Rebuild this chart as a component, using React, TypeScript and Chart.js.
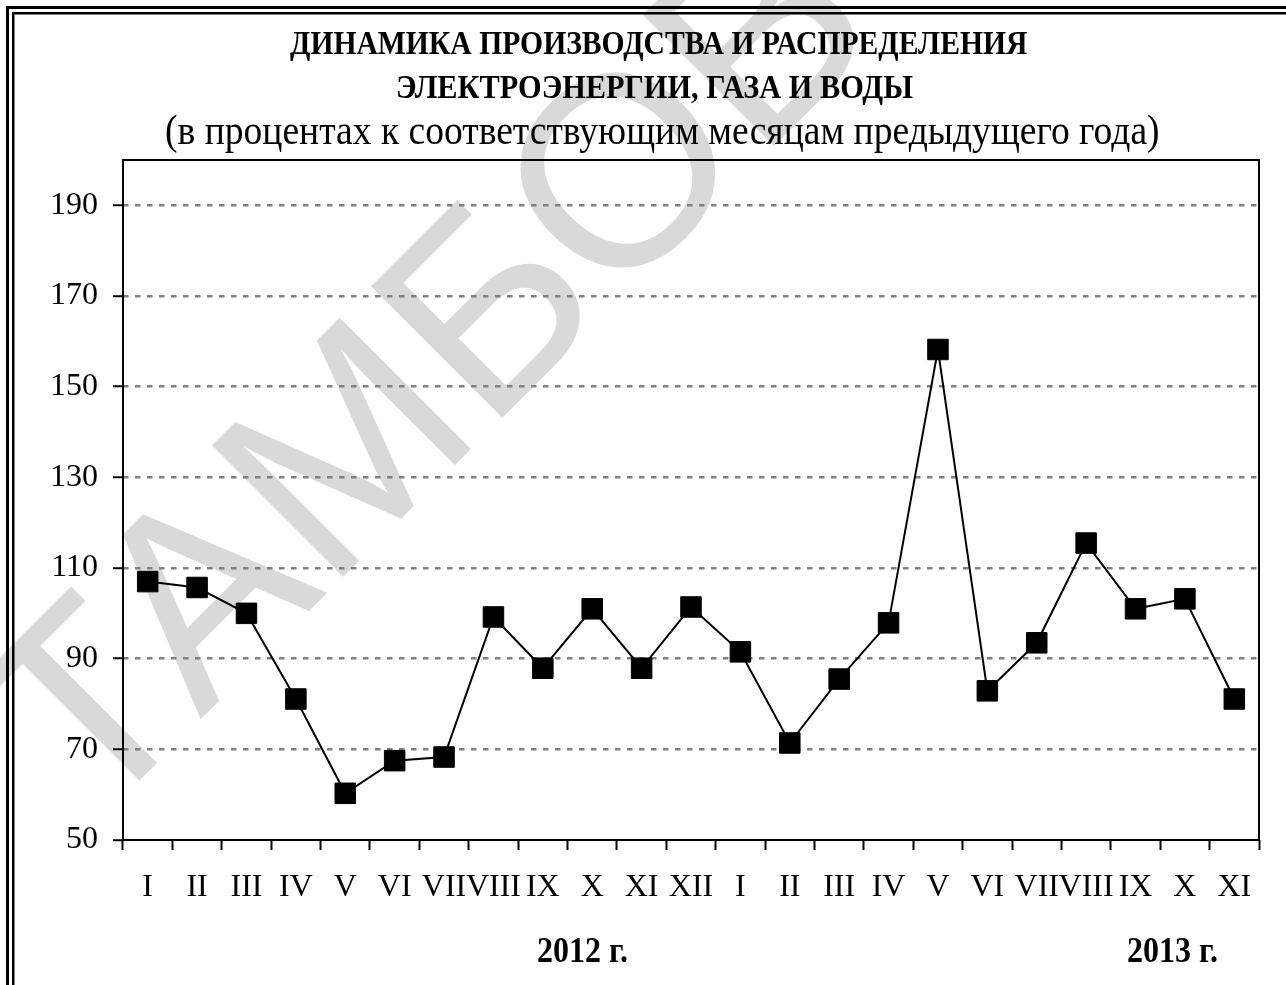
import React, { useEffect, useRef } from 'react';
import { Chart, registerables } from 'chart.js';

Chart.register(...registerables);

const MONTHS = ['I', 'II', 'III', 'IV', 'V', 'VI', 'VII', 'VIII', 'IX', 'X', 'XI', 'XII',
  'I', 'II', 'III', 'IV', 'V', 'VI', 'VII', 'VIII', 'IX', 'X', 'XI'];
const VALUES = [107.0, 105.7, 100.0, 81.1, 60.3, 67.5, 68.3, 99.2, 87.9, 101.0, 87.9, 101.4,
  91.5, 71.4, 85.5, 97.9, 158.2, 82.9, 93.5, 115.5, 101.0, 103.2, 81.1];
const Y_TICKS = [50, 70, 90, 110, 130, 150, 170, 190];
const Y_MIN = 50;
const Y_MAX = 200;
const TITLE_LINES = ['ДИНАМИКА ПРОИЗВОДСТВА И РАСПРЕДЕЛЕНИЯ', 'ЭЛЕКТРОЭНЕРГИИ, ГАЗА И ВОДЫ'];
const SUBTITLE = '(в процентах к соответствующим месяцам предыдущего года)';
const YEAR_LABELS = ['2012 г.', '2013 г.'];
const WATERMARK = 'ТАМБОВ';

const SERIF = "'Liberation Serif', 'Times New Roman', serif";
const SANS = "'Liberation Sans', Arial, sans-serif";
const TEXT_STRETCH = 1.13;

function fitText(ctx: CanvasRenderingContext2D, text: string, weight: string,
  x1: number, x2: number, baseline: number, sy: number) {
  ctx.font = `${weight} 100px ${SERIF}`;
  const w = ctx.measureText(text).width;
  const size = (100 * (x2 - x1)) / w;
  ctx.save();
  ctx.font = `${weight} ${size}px ${SERIF}`;
  ctx.fillStyle = '#000';
  ctx.textAlign = 'left';
  ctx.textBaseline = 'alphabetic';
  ctx.translate(x1, baseline);
  ctx.scale(1, sy);
  ctx.fillText(text, 0, 0);
  ctx.restore();
}

const decorPlugin = {
  id: 'decor',
  beforeDraw(chart: any) {
    const ctx: CanvasRenderingContext2D = chart.ctx;
    ctx.save();
    ctx.fillStyle = '#fff';
    ctx.fillRect(0, 0, chart.width, chart.height);
    // watermark
    ctx.save();
    ctx.fillStyle = '#d9d9d9';
    ctx.font = `270px ${SANS}`;
    ctx.translate(90, 830);
    ctx.rotate((-45 * Math.PI) / 180);
    ctx.textBaseline = 'alphabetic';
    ctx.fillText(WATERMARK, 0, 0);
    ctx.restore();
    // double frame
    ctx.strokeStyle = '#000';
    ctx.lineWidth = 3;
    ctx.strokeRect(7.5, 7.5, 3000, 3000);
    ctx.lineWidth = 2.5;
    ctx.strokeRect(13.25, 13.25, 3000, 3000);
    // titles
    fitText(ctx, TITLE_LINES[0], 'bold', 290, 1028, 54, TEXT_STRETCH);
    fitText(ctx, TITLE_LINES[1], 'bold', 396, 913, 98, TEXT_STRETCH);
    fitText(ctx, SUBTITLE, 'normal', 165, 1160, 144, TEXT_STRETCH);
    fitText(ctx, YEAR_LABELS[0], 'bold', 537, 628, 962, TEXT_STRETCH);
    fitText(ctx, YEAR_LABELS[1], 'bold', 1127, 1218, 962, TEXT_STRETCH);
    ctx.restore();
  },
  beforeDatasetsDraw(chart: any) {
    const ctx: CanvasRenderingContext2D = chart.ctx;
    const { left, top, right, bottom } = chart.chartArea;
    ctx.save();
    ctx.strokeStyle = '#000';
    ctx.lineWidth = 2;
    ctx.strokeRect(left, top, right - left, bottom - top);
    ctx.restore();
  },
};

export default function App() {
  const ref = useRef<HTMLCanvasElement | null>(null);

  useEffect(() => {
    if (!ref.current) return;
    const chart = new Chart(ref.current, {
      type: 'line',
      data: {
        labels: MONTHS,
        datasets: [
          {
            data: VALUES,
            borderColor: '#000',
            borderWidth: 2,
            tension: 0,
            pointStyle: 'rect',
            pointRadius: 14.5,
            pointBackgroundColor: '#000',
            pointBorderColor: '#000',
            pointBorderWidth: 1,
          },
        ],
      },
      options: {
        responsive: false,
        animation: false,
        layout: { padding: { top: 160, right: 27, left: 0, bottom: 0 } },
        plugins: {
          legend: { display: false },
          tooltip: { enabled: false },
          title: { display: false },
        },
        scales: {
          x: {
            type: 'category',
            offset: true,
            grid: {
              offset: true,
              drawOnChartArea: false,
              drawTicks: true,
              tickLength: 10,
              tickWidth: 2,
              tickColor: '#000',
            },
            border: { display: false },
            ticks: {
              autoSkip: false,
              maxRotation: 0,
              minRotation: 0,
              padding: 18,
              color: '#000',
              font: { family: SERIF, size: 32 },
            },
            afterFit: (s: any) => {
              s.height = 145;
            },
          },
          y: {
            type: 'linear',
            min: Y_MIN,
            max: Y_MAX,
            bounds: 'data',
            afterBuildTicks: (s: any) => {
              s.ticks = Y_TICKS.map((v) => ({ value: v }));
            },
            grid: {
              color: (c: any) => (c.tick && c.tick.value === Y_MIN ? 'rgba(0,0,0,0)' : '#808080'),
              lineWidth: 2.5,
              drawTicks: true,
              tickLength: 10,
              tickWidth: 2,
              tickColor: '#000',
              tickBorderDash: [],
            },
            border: { display: false, dash: [5.5, 6.5] },
            ticks: {
              padding: 15,
              color: '#000',
              font: { family: SERIF, size: 32 },
            },
            afterFit: (s: any) => {
              s.width = 123;
            },
          },
        },
      } as any,
      plugins: [decorPlugin],
    });
    return () => chart.destroy();
  }, []);

  return (
    <div style={{ position: 'absolute', left: 0, top: 0, width: 1286, height: 985 }}>
      <canvas ref={ref} width={1286} height={985} style={{ display: 'block' }} />
    </div>
  );
}
